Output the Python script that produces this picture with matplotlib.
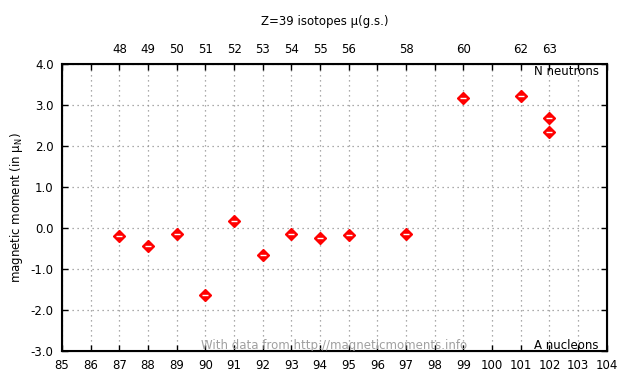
import numpy as np
import matplotlib
matplotlib.use('Agg')
import matplotlib.pyplot as plt

# Z=39 (yttrium) ground-state magnetic moments
mass_a = [87, 88, 89, 90, 91, 92, 93, 94, 95, 97, 99, 101, 102, 102]
moment = [-0.19, -0.43, -0.14, -1.64, 0.16, -0.67, -0.14, -0.24, -0.16, -0.14, 3.17, 3.22, 2.68, 2.35]
n_ticks_a = [87, 88, 89, 90, 91, 92, 93, 94, 95, 97, 99, 101, 102]
n_labels = ['48', '49', '50', '51', '52', '53', '54', '55', '56', '58', '60', '62', '63']

plt.rcParams['font.family'] = 'DejaVu Sans'
plt.rcParams['font.size'] = 8

fig = plt.figure(figsize=(6.4, 3.84), dpi=100)
ax = fig.add_axes([0.097, 0.086, 0.851, 0.747])

ax.plot(mass_a, moment, linestyle='none', marker='D', markersize=6.5,
        markerfacecolor='red', markeredgecolor='red', zorder=3)
ax.plot(mass_a, moment, linestyle='none', marker='_', markersize=4,
        markeredgecolor='white', markeredgewidth=1, zorder=4)

ax.set_xlim(85, 104)
ax.set_ylim(-3, 4)
ax.set_xticks(np.arange(85, 105, 1))
ax.set_yticks(np.arange(-3, 5, 1))
ax.set_yticklabels(['%.1f' % v for v in np.arange(-3, 5, 1)])
ax.grid(True, color='#909090', linestyle=(0, (1, 3)), linewidth=0.9)
ax.tick_params(direction='in', length=4, width=1, right=True, pad=6, labelsize=8.5)
for s in ax.spines.values():
    s.set_linewidth(1.5)

top = ax.twiny()
top.set_xlim(ax.get_xlim())
top.set_xticks(n_ticks_a)
top.set_xticklabels(n_labels)
top.tick_params(direction='in', length=4, width=1, pad=6, labelsize=8.5)
top.set_xticks(np.arange(85, 105, 1), minor=True)
top.tick_params(which='minor', direction='in', length=4, width=1)

ax.set_ylabel('magnetic moment (in $\\mathregular{\\mu_N}$)', fontsize=8.5)
fig.text(0.508, 0.943, 'Z=39 isotopes μ(g.s.)', ha='center', va='center', fontsize=8.5)
ax.text(0.985, 0.997, 'N neutrons', transform=ax.transAxes, ha='right', va='top', fontsize=8.5)
ax.text(0.985, -0.005, 'A nucleons', transform=ax.transAxes, ha='right', va='bottom', fontsize=8.5)
ax.text(0.5, -0.005, 'With data from http://magneticmoments.info', transform=ax.transAxes,
        ha='center', va='bottom', fontsize=8.5, color='#a0a0a0')

fig.savefig('out.png', dpi=100)
